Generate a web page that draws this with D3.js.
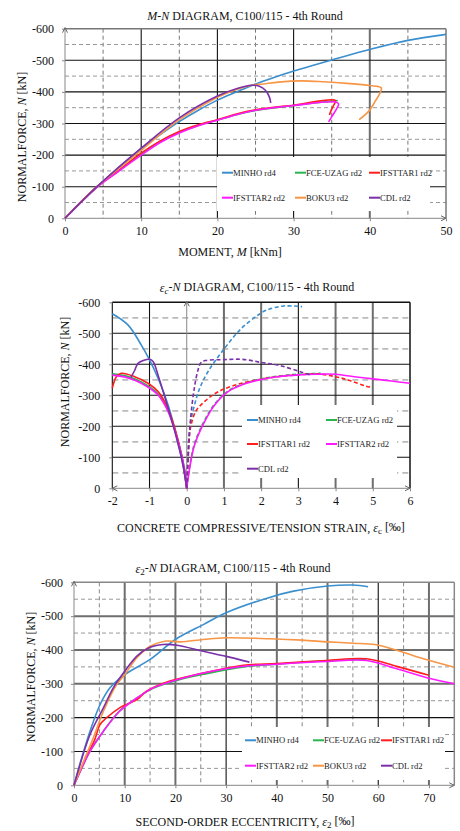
<!DOCTYPE html>
<html>
<head>
<meta charset="utf-8">
<script src="https://cdn.jsdelivr.net/npm/d3@7"></script>
<style>
  body { margin: 0; background: #fff; }
  svg, svg text, svg tspan { font-family: "Liberation Serif", "DejaVu Serif", serif !important; }
</style>
</head>
<body>
<div id="chart"></div>
<script>
// ---- series names (shared legend labels) ----
const names = ['MINHO rd4', 'FCE-UZAG rd2', 'IFSTTAR1 rd2', 'IFSTTAR2 rd2', 'BOKU3 rd2', 'CDL rd2'];

// ---- M-N diagram: [M kNm, N kN] ----
const mnMinho = [[0,0],[2,-48],[4.2,-100],[7,-160],[9.9,-219],[12.5,-265],[15,-306],[17.5,-342],[20,-374],[22.5,-400],[24.7,-422],[27.5,-446],[30,-466],[35.3,-503],[40.1,-535],[45,-563],[50,-582]];
const mnFce = [[0,0],[4.2,-100],[7,-150],[10,-205],[12.5,-243],[15,-272],[17.5,-294],[20,-311],[22.5,-328],[25,-341],[30,-357],[35.8,-373]];
const mnIfs1 = [[0,0],[4.2,-100],[7,-150],[10,-206],[12.5,-245],[15,-275],[17.5,-296],[20,-312],[22.5,-330],[25,-343],[30,-358],[35.5,-373],[35.2,-355],[34.9,-340],[34.7,-327]];
const mnIfs2 = [[0,0],[4.2,-98],[7,-148],[10,-200],[12.5,-240],[15,-270],[17.5,-293],[20,-310],[22.5,-328],[25,-342],[30,-357],[35.5,-368],[35.9,-362],[35.6,-345],[35.1,-325],[34.6,-305]];
const mnBoku = [[0,0],[4.2,-100],[10,-215],[15,-312],[20,-383],[22.5,-408],[24.5,-421],[26,-425],[28,-431],[31,-435],[34,-432],[37,-427],[40,-420],[41.5,-413],[41.4,-400],[40.7,-370],[39.9,-340],[38.6,-312]];
const mnCdl = [[0,0],[4.2,-100],[10,-222],[15,-318],[20,-387],[22.5,-410],[24.5,-421],[25.5,-418],[26.3,-405],[26.8,-385],[27,-365]];

// ---- eps_c-N diagram: [strain permille, N kN], C = compressive side, T = tension side ----
const ecMinhoC = [[-2,-563],[-1.58,-527],[-1.22,-462],[-1.02,-419],[-0.77,-355],[-0.5,-269],[-0.28,-172],[-0.1,-75],[0,0]];
const ecMinhoT = [[0,0],[0.08,-194],[0.21,-269],[0.35,-323],[0.57,-376],[1.02,-452],[1.47,-516],[1.92,-559],[2.15,-575],[2.6,-588],[3.1,-586]];
const ecFceC = [[-2,-369],[-1.6,-361],[-1.22,-343],[-0.77,-305],[-0.5,-251],[-0.23,-153],[-0.05,-57],[0,0]];
const ecFceT = [[0,0],[0.1,-85],[0.21,-145],[0.48,-220],[0.75,-272],[1.11,-314],[1.47,-335],[1.92,-351],[2.45,-362],[3,-368],[3.6,-371]];
const ecIfs1C = [[-2,-323],[-1.89,-360],[-1.76,-371],[-1.4,-360],[-1.04,-339],[-0.77,-312],[-0.55,-269],[-0.32,-194],[-0.14,-107],[0,0]];
const ecIfs1T = [[0,0],[0.06,-150],[0.1,-195],[0.25,-250],[0.5,-282],[0.75,-305],[1,-320],[1.5,-340],[2,-352],[2.5,-361],[3,-366],[3.5,-369],[4,-360],[4.4,-347],[4.8,-330],[5,-325]];
const ecIfs2C = [[-2,-365],[-1.6,-357],[-1.22,-339],[-0.77,-301],[-0.5,-247],[-0.23,-150],[-0.05,-55],[0,0]];
const ecIfs2T = [[0,0],[0.1,-80],[0.21,-140],[0.48,-215],[0.75,-269],[1.11,-312],[1.47,-333],[1.92,-349],[2.45,-360],[3,-366],[3.5,-368],[4,-368],[4.5,-360],[5,-353],[5.5,-346],[6,-339]];
const ecCdlC = [[-1.5,-358],[-1.4,-380],[-1.31,-403],[-1.15,-413],[-0.99,-416],[-0.9,-408],[-0.77,-365],[-0.55,-279],[-0.32,-183],[-0.1,-75],[0,0]];
const ecCdlT = [[0,0],[0.05,-120],[0.1,-220],[0.2,-320],[0.3,-380],[0.38,-405],[0.5,-412],[1,-415],[1.5,-416],[2,-406],[2.5,-396],[3.05,-376],[3.35,-365]];

// ---- eps_2-N diagram: [eccentricity permille, N kN] ----
const e2Minho = [[0,0],[1.5,-80],[3.16,-160],[5.13,-238],[7.1,-288],[10,-327],[15,-372],[20,-431],[25.5,-475],[30,-510],[38.7,-556],[43.3,-574],[50,-589],[55,-592],[58,-587]];
const e2Fce = [[0,0],[3.16,-100],[5.8,-160],[9,-220],[12.4,-258],[15.6,-287],[20.3,-310],[25.5,-328],[33.4,-350],[40,-358],[49.8,-368],[57.7,-372]];
const e2Ifs1 = [[0,0],[2,-70],[4.1,-135],[5.1,-179],[6.4,-199],[9,-229],[12.4,-253],[14.3,-278],[18.9,-308],[25.5,-332],[33.4,-355],[40,-360],[49.8,-369],[57.7,-374],[64,-350],[70,-325]];
const e2Ifs2 = [[0,0],[1.5,-50],[3.16,-101],[5.8,-160],[9,-219],[12.4,-258],[15.6,-288],[20.3,-312],[25.5,-332],[33.4,-352],[40,-358],[49.8,-366],[57.7,-369],[63.5,-345],[69.6,-318],[75,-300]];
const e2Boku = [[0,0],[2,-75],[3.8,-140],[5.8,-219],[8.4,-298],[10,-327],[12.4,-377],[15,-411],[17.9,-426],[21,-424],[25.5,-431],[30,-436],[38.7,-433],[45,-429],[50,-424],[55,-420],[59.4,-416],[64.3,-396],[68.9,-374],[75,-349]];
const e2Cdl = [[0,0],[3.16,-150],[5.8,-229],[7.75,-288],[10,-337],[12.4,-382],[14.7,-406],[17.6,-416],[20.3,-414],[25.5,-396],[30,-381],[34.6,-364]];

// ---- ticks ----
const nTicks = [0, -100, -200, -300, -400, -500, -600];
const mTicks = [0, 10, 20, 30, 40, 50];
const ecTicks = [-2, -1, 0, 1, 2, 3, 4, 5, 6];
const e2Ticks = [0, 10, 20, 30, 40, 50, 60, 70];

const colors = { 'MINHO rd4': '#3a8fcf', 'FCE-UZAG rd2': '#2bb552', 'IFSTTAR1 rd2': '#ff1f1f',
                 'IFSTTAR2 rd2': '#ff19ff', 'BOKU3 rd2': '#f79646', 'CDL rd2': '#7a30a8' };
const FONT = '"Liberation Serif", "DejaVu Serif", serif';

const svg = d3.select('#chart').append('svg')
    .attr('width', 460).attr('height', 831)
    .attr('font-family', FONT);
svg.append('rect').attr('width', 460).attr('height', 831).attr('fill', '#fff');

// helper: text with mixed italic / subscript parts
function richText(sel, parts) {
    sel.style('font-family', FONT);
    parts.forEach(p => {
        const t = sel.append('tspan').text(p.t);
        if (p.i) t.style('font-style', 'italic');
        if (p.sub) t.attr('font-size', '0.75em').attr('dy', '0.25em');
        if (p.up) t.attr('dy', '-0.25em');
    });
}

function drawChart(cfg) {
    const g = svg.append('g');
    const x = d3.scaleLinear().domain(cfg.xDomain).range([cfg.left, cfg.right]);
    const y = d3.scaleLinear().domain([0, -600]).range([cfg.bottom, cfg.top]);

    // minor dashed grid
    cfg.xMinor.forEach(v => g.append('line')
        .attr('x1', x(v)).attr('x2', x(v)).attr('y1', cfg.top).attr('y2', cfg.bottom)
        .attr('stroke', cfg.vDashColor).attr('stroke-width', 1).attr('stroke-dasharray', '4,3'));
    d3.range(-50, -600, -100).forEach(v => g.append('line')
        .attr('x1', cfg.left).attr('x2', cfg.right).attr('y1', y(v)).attr('y2', y(v))
        .attr('stroke', cfg.hDashColor).attr('stroke-width', cfg.hDashWidth).attr('stroke-dasharray', cfg.hDash));

    // major grid
    cfg.xMajor.forEach(v => {
        const thick = cfg.xThick.includes(v);
        g.append('line')
            .attr('x1', x(v)).attr('x2', x(v)).attr('y1', cfg.top).attr('y2', cfg.bottom)
            .attr('stroke', thick ? '#6e6e6e' : '#111').attr('stroke-width', thick ? 2 : 1.1);
    });
    [-100, -200, -300, -400, -500].forEach(v => {
        const thick = cfg.yThick.includes(v);
        g.append('line')
            .attr('x1', cfg.left).attr('x2', cfg.right).attr('y1', y(v)).attr('y2', y(v))
            .attr('stroke', thick ? '#6e6e6e' : '#111').attr('stroke-width', thick ? 2 : 1.1);
    });
    // frame top/right
    g.append('line').attr('x1', cfg.left).attr('x2', cfg.right).attr('y1', cfg.top).attr('y2', cfg.top)
        .attr('stroke', cfg.frameColor).attr('stroke-width', 1.5);
    g.append('line').attr('x1', cfg.right).attr('x2', cfg.right).attr('y1', cfg.top).attr('y2', cfg.bottom)
        .attr('stroke', cfg.frameColor).attr('stroke-width', 1.5);
    if (cfg.leftFrame) {
        g.append('line').attr('x1', cfg.left).attr('x2', cfg.left).attr('y1', cfg.top).attr('y2', cfg.bottom)
            .attr('stroke', '#111').attr('stroke-width', 1.1);
    }

    // axes
    const xAxis = g.append('g')
        .attr('transform', `translate(0,${cfg.bottom})`)
        .call(d3.axisBottom(x).tickValues(cfg.xTicks).tickSize(3).tickPadding(5).tickFormat(d => String(d)));
    const yAxis = g.append('g')
        .attr('transform', `translate(${cfg.left},0)`)
        .call(d3.axisLeft(y).tickValues(nTicks).tickSize(3).tickPadding(cfg.yPad).tickFormat(d => String(d)));
    [xAxis, yAxis].forEach(a => {
        a.attr('font-family', FONT).attr('font-size', 12);
        a.select('.domain').remove();
        a.selectAll('line').attr('stroke', '#888');
        a.selectAll('text').attr('fill', '#111').style('font-family', FONT);
    });

    // axis lines with arrows
    const x0 = x(cfg.yAxisAt);
    g.append('line').attr('x1', cfg.left).attr('x2', cfg.right).attr('y1', cfg.bottom).attr('y2', cfg.bottom)
        .attr('stroke', '#888').attr('stroke-width', 1);
    g.append('line').attr('x1', x0).attr('x2', x0).attr('y1', cfg.top - 1).attr('y2', cfg.bottom)
        .attr('stroke', '#888').attr('stroke-width', 1);
    g.append('path').attr('d', `M${x0 - 2.5},${cfg.top + 4}L${x0},${cfg.top - 1}L${x0 + 2.5},${cfg.top + 4}`)
        .attr('fill', 'none').attr('stroke', '#666');
    g.append('path').attr('d', `M${cfg.right - 5},${cfg.bottom - 2.5}L${cfg.right},${cfg.bottom}L${cfg.right - 5},${cfg.bottom + 2.5}`)
        .attr('fill', 'none').attr('stroke', '#666');
    if (cfg.leftArrow) {
        g.append('path').attr('d', `M${cfg.left + 5},${cfg.bottom - 2.5}L${cfg.left},${cfg.bottom}L${cfg.left + 5},${cfg.bottom + 2.5}`)
            .attr('fill', 'none').attr('stroke', '#666');
    }

    // data lines
    const line = d3.line()
        .x(d => x(d[0]))
        .y(d => y(d[1]))
        .curve(d3.curveCatmullRom.alpha(0.5));
    cfg.series.forEach(s => {
        g.append('path')
            .datum(s.data)
            .attr('fill', 'none')
            .attr('stroke', colors[s.name])
            .attr('stroke-width', 1.6)
            .attr('stroke-dasharray', s.dashed ? '4,2.5' : null)
            .attr('d', line);
    });

    // legend
    const lg = cfg.legend;
    g.append('rect').attr('x', lg.x).attr('y', lg.y).attr('width', lg.w).attr('height', lg.h).attr('fill', '#fff');
    lg.items.forEach((name, i) => {
        const col = i % lg.cols, row = Math.floor(i / lg.cols);
        const lx = lg.colX[col], ly = lg.rowY[row];
        g.append('line').attr('x1', lx).attr('x2', lx + 11).attr('y1', ly).attr('y2', ly)
            .attr('stroke', colors[name]).attr('stroke-width', 2);
        g.append('text').attr('x', lx + 11).attr('y', ly).attr('dy', '0.35em')
            .attr('font-size', 8.6).attr('fill', '#222').style('font-family', FONT).text(name);
    });

    // titles
    richText(g.append('text').attr('x', cfg.titleX).attr('y', cfg.titleY).attr('text-anchor', 'middle')
        .attr('font-size', 12).attr('fill', '#111'), cfg.title);
    richText(g.append('text').attr('x', cfg.xLabelX).attr('y', cfg.xLabelY).attr('text-anchor', 'middle')
        .attr('font-size', 12).attr('fill', '#111'), cfg.xLabel);
    richText(g.append('text').attr('transform', `translate(${cfg.yLabelX},${cfg.yLabelY}) rotate(-90)`)
        .attr('text-anchor', 'middle').attr('dy', '0.35em')
        .attr('font-size', 12).attr('fill', '#111'),
        [{ t: 'NORMALFORCE, ' }, { t: 'N', i: true }, { t: ' [kN]' }]);
}

const titleTail = { t: ' DIAGRAM, C100/115 - 4th Round' };

drawChart({
    left: 65, right: 446, top: 28.7, bottom: 218.3, xDomain: [0, 50], xTicks: mTicks, yAxisAt: 0,
    xMinor: [5, 15, 25, 35, 45], xMajor: [10, 20, 30, 40], xThick: [40], yThick: [],
    vDashColor: '#777', hDashColor: '#999', hDashWidth: 1, hDash: '4,3', frameColor: '#777', yPad: 8,
    series: [
        { name: 'MINHO rd4', data: mnMinho }, { name: 'FCE-UZAG rd2', data: mnFce },
        { name: 'IFSTTAR1 rd2', data: mnIfs1 }, { name: 'IFSTTAR2 rd2', data: mnIfs2 },
        { name: 'BOKU3 rd2', data: mnBoku }, { name: 'CDL rd2', data: mnCdl }
    ],
    legend: { x: 217, y: 157, w: 213, h: 54, cols: 3, colX: [222, 295, 369], rowY: [172.7, 197.7], items: names },
    title: [{ t: 'M', i: true }, { t: '-' }, { t: 'N', i: true }, titleTail], titleX: 245, titleY: 20,
    xLabel: [{ t: 'MOMENT, ' }, { t: 'M', i: true }, { t: ' [kNm]' }], xLabelX: 230, xLabelY: 256,
    yLabelX: 22, yLabelY: 137
});

drawChart({
    left: 112.3, right: 410, top: 302.3, bottom: 488.3, xDomain: [-2, 6], xTicks: ecTicks, yAxisAt: 0,
    xMinor: [], xMajor: [-1, 1, 2, 3, 4, 5], xThick: [1, 2, 4, 5], yThick: [], leftFrame: true, leftArrow: true,
    vDashColor: '#777', hDashColor: '#bbb', hDashWidth: 1.8, hDash: '6,4', frameColor: '#111', yPad: 9,
    series: [
        { name: 'MINHO rd4', data: ecMinhoC }, { name: 'MINHO rd4', data: ecMinhoT, dashed: true },
        { name: 'FCE-UZAG rd2', data: ecFceC }, { name: 'FCE-UZAG rd2', data: ecFceT, dashed: true },
        { name: 'IFSTTAR1 rd2', data: ecIfs1C }, { name: 'IFSTTAR1 rd2', data: ecIfs1T, dashed: true },
        { name: 'IFSTTAR2 rd2', data: ecIfs2C }, { name: 'IFSTTAR2 rd2', data: ecIfs2T },
        { name: 'CDL rd2', data: ecCdlC }, { name: 'CDL rd2', data: ecCdlT, dashed: true }
    ],
    legend: { x: 242, y: 405, w: 155, h: 73, cols: 2, colX: [247, 326], rowY: [420, 444, 468.7],
              items: ['MINHO rd4', 'FCE-UZAG rd2', 'IFSTTAR1 rd2', 'IFSTTAR2 rd2', 'CDL rd2'] },
    title: [{ t: 'ε', i: true }, { t: 'c', i: true, sub: true }, { t: '-', up: true }, { t: 'N', i: true }, titleTail],
    titleX: 257, titleY: 292,
    xLabel: [{ t: 'CONCRETE COMPRESSIVE/TENSION STRAIN, ' }, { t: 'ε', i: true }, { t: 'c', sub: true },
             { t: ' [‰]', up: true }],
    xLabelX: 261, xLabelY: 532,
    yLabelX: 65, yLabelY: 382
});

drawChart({
    left: 74, right: 454.3, top: 582.3, bottom: 785.3, xDomain: [0, 75], xTicks: e2Ticks, yAxisAt: 0,
    xMinor: [5, 15, 25, 35, 45, 55, 65], xMajor: [10, 20, 30, 40, 50, 60, 70], xThick: [10, 20, 40, 50, 70],
    yThick: [-300, -400, -500],
    vDashColor: '#888', hDashColor: '#999', hDashWidth: 1, hDash: '4,3', frameColor: '#888', yPad: 8,
    series: [
        { name: 'MINHO rd4', data: e2Minho }, { name: 'FCE-UZAG rd2', data: e2Fce },
        { name: 'IFSTTAR1 rd2', data: e2Ifs1 }, { name: 'IFSTTAR2 rd2', data: e2Ifs2 },
        { name: 'BOKU3 rd2', data: e2Boku }, { name: 'CDL rd2', data: e2Cdl }
    ],
    legend: { x: 242, y: 727, w: 203, h: 53, cols: 3, colX: [245, 313, 381], rowY: [740.3, 765.7], items: names },
    title: [{ t: 'ε', i: true }, { t: '2', sub: true }, { t: '-', up: true }, { t: 'N', i: true }, titleTail],
    titleX: 233, titleY: 573,
    xLabel: [{ t: 'SECOND-ORDER ECCENTRICITY, ' }, { t: 'ε', i: true }, { t: '2', sub: true }, { t: ' [‰]', up: true }],
    xLabelX: 245, xLabelY: 826,
    yLabelX: 31, yLabelY: 677
});
</script>
</body>
</html>
